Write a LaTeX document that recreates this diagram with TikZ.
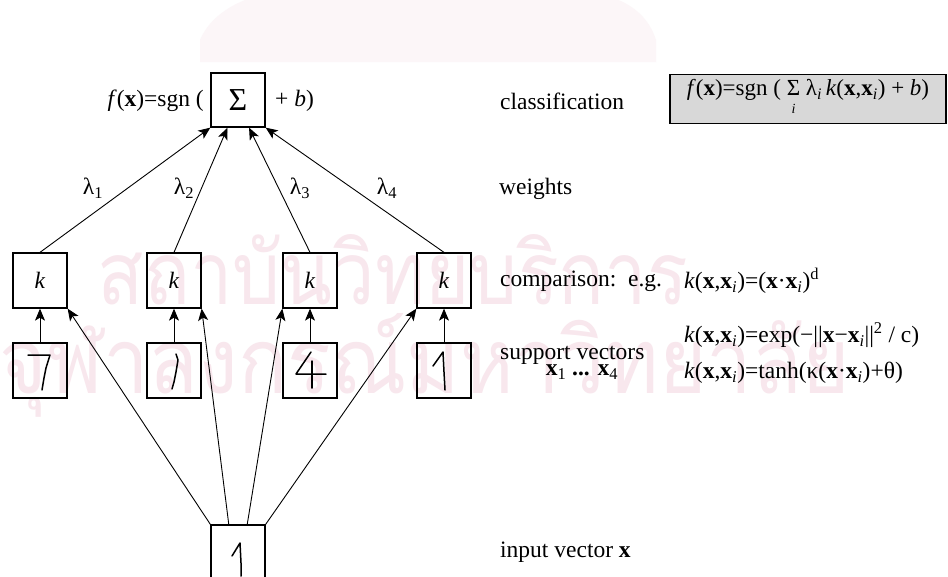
\documentclass[tikz,border=0pt]{standalone}
\usepackage{fontspec}
\setmainfont{Liberation Serif}
\newfontfamily\thaifont[Script=Thai]{Loma}
\usetikzlibrary{arrows.meta,calc}
\definecolor{wm}{RGB}{248,231,237}
\definecolor{wmlight}{RGB}{252,246,248}
\definecolor{panel}{RGB}{216,216,216}
\newcommand{\vb}[1]{\textbf{#1}}
\newcommand{\sbs}[1]{\textsubscript{#1}}
\newcommand{\sumi}{\begin{tabular}[t]{@{}c@{}}Σ\\[-9pt]{\fontsize{14}{14}\selectfont\textit{i}}\end{tabular}}
\begin{document}
\begin{tikzpicture}[x=1pt,y=-1pt,
  font=\fontsize{23.5}{27}\selectfont,
  box/.style={draw, line width=1.3pt, inner sep=0pt, minimum width=54pt, minimum height=55pt},
  arr/.style={line width=0.9pt, -{Stealth[length=12pt,width=10pt,inset=3pt]}},
  digit/.style={line width=1.5pt, line join=round, line cap=round},
  lbl/.style={anchor=west, inner sep=0pt},
  wmtext/.style={text=wm, inner sep=0pt}]
\useasboundingbox (0,0) rectangle (948,576);
\fill[white] (0,0) rectangle (948,576);

% faint watermark behind the figure
\fill[wmlight] (200,62) -- (200,40) .. controls (215,5) and (260,-10) .. (300,-10)
  -- (560,-10) .. controls (610,-10) and (645,5) .. (656,40) -- (656,62) -- cycle;
\node[wmtext] (wm1) at (393,270) {\resizebox{590pt}{70pt}{\thaifont สถาบันวิทยบริการ}};
\node[wmtext] (wm2) at (425,365) {\resizebox{850pt}{80pt}{\thaifont จุฬาลงกรณ์มหาวิทยาลัย}};

% summation unit
\node[box, minimum height=54pt] (sum) at (238,100) {\fontsize{32}{32}\selectfont Σ};
\node[anchor=east, inner sep=0pt] (fl) at (204,101) {\textit{f}(\vb{x})=sgn (};
\node[anchor=west, inner sep=0pt] (fr) at (275,101) {+ \textit{b})};

% kernel units and support vectors
\foreach \i/\x in {1/40,2/174,3/310,4/444}{
  \node[box] (k\i) at (\x,280.5) {\textit{k}};
  \node[box] (sv\i) at (\x,370.5) {};
  \draw[arr] (sv\i) -- (k\i);
}

% input unit
\node[box, minimum height=56pt] (in) at (238,553) {};

% weighted connections into the summation
\coordinate (s2) at ($(sum.south west)!0.31!(sum.south east)$);
\coordinate (s3) at ($(sum.south west)!0.70!(sum.south east)$);
\draw[arr] (k1.north) -- (sum.south west);
\draw[arr] (k2.north) -- (s2);
\draw[arr] (k3.north) -- (s3);
\draw[arr] (k4.north) -- (sum.south east);
\node (l1) at (93,188) {λ\sbs{1}};
\node (l2) at (184,188) {λ\sbs{2}};
\node (l3) at (300,188) {λ\sbs{3}};
\node (l4) at (387,188) {λ\sbs{4}};

% input vector fed to every kernel
\coordinate (i2) at ($(in.north west)!0.333!(in.north east)$);
\coordinate (i3) at ($(in.north west)!0.667!(in.north east)$);
\draw[arr] (in.north west) -- (k1.south east);
\draw[arr] (i2) -- (k2.south east);
\draw[arr] (i3) -- (k3.south west);
\draw[arr] (in.north east) -- (k4.south west);

% handwritten digits
\draw[digit] (28,355) -- (50,355) -- (46,368) -- (44,378) -- (42,390);
\draw[digit] (176,354) -- (178,360) -- (176,372) -- (174,382) -- (172,389);
\draw[digit] (311,352) -- (296,374) -- (326,374);
\draw[digit] (312,361) -- (312,388);
\draw[digit] (433,366) -- (443,352) -- (444,372) -- (445,390);
\draw[digit] (232,556) -- (240,543) -- (241,563) -- (241,576);

% decision function panel
\node[draw, line width=1.4pt, fill=panel, minimum width=276pt, minimum height=49pt, inner sep=0pt] (dec) at (808,99)
  {\fontsize{23}{27}\selectfont\textit{f}(\vb{x})=sgn ( \sumi\ λ\sbs{\textit{i}}\,\textit{k}(\vb{x},\vb{x}\sbs{\textit{i}}) + \textit{b})};

% layer captions
\node[lbl] (c1) at (500,101) {classification};
\node[lbl] (c2) at (499,189) {weights};
\node[lbl] (c3) at (500,281) {comparison:\ \ e.g.};
\node[lbl] (c4) at (500,355) {support vectors};
\node[inner sep=0pt] (c5) at (582,372) {\vb{x}\sbs{1} \vb{...} \vb{x}\sbs{4}};
\node[lbl] (c6) at (500,552) {input vector \vb{x}};

% kernel examples
\node[lbl] (e1) at (684,281) {\textit{k}(\vb{x},\vb{x}\sbs{\textit{i}})=(\vb{x}·\vb{x}\sbs{\textit{i}})\textsuperscript{d}};
\node[lbl] (e2) at (684,335) {\textit{k}(\vb{x},\vb{x}\sbs{\textit{i}})=exp(−||\vb{x}−\vb{x}\sbs{\textit{i}}||\textsuperscript{2} / c)};
\node[lbl] (e3) at (684,373) {\textit{k}(\vb{x},\vb{x}\sbs{\textit{i}})=tanh(κ(\vb{x}·\vb{x}\sbs{\textit{i}})+θ)};
\end{tikzpicture}
\end{document}
